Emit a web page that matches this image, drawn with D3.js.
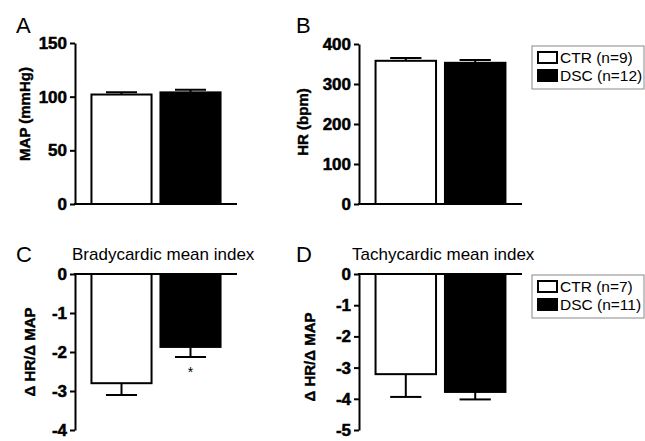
<!DOCTYPE html>
<html>
<head>
<meta charset="utf-8">
<script src="https://cdn.jsdelivr.net/npm/d3@7"></script>
<style>
  body { margin: 0; background: #fff; }
  svg { display: block; }
  svg text { font-family: "Liberation Sans", Arial, Helvetica, sans-serif; fill: #000; }
</style>
</head>
<body>
<svg id="chart" width="645" height="441"></svg>
<script>
// ---- data ----
const groups = ["CTR", "DSC"];
const mapMean = [102, 104];
const mapSem = [2, 2.5];
const hrMean = [358, 353];
const hrSem = [7, 7];
const bradyMean = [-2.8, -1.87];
const bradySem = [0.3, 0.26];
const tachyMean = [-3.21, -3.78];
const tachySem = [0.73, 0.24];
const mapTicks = [0, 50, 100, 150];
const hrTicks = [0, 100, 200, 300, 400];
const bradyTicks = [0, -1, -2, -3, -4];
const tachyTicks = [0, -1, -2, -3, -4, -5];
const legendTop = ["CTR (n=9)", "DSC (n=12)"];
const legendBottom = ["CTR (n=7)", "DSC (n=11)"];
const fills = ["#ffffff", "#000000"];

const svg = d3.select("#chart");
const FONT = "'Liberation Sans', Arial, Helvetica, sans-serif";

function panel(cfg) {
  const g = svg.append("g");
  const x = d3.scaleBand().domain(groups).range([cfg.x0, cfg.x1])
    .paddingInner(0.1).paddingOuter(0.224);
  const y = d3.scaleLinear().domain(cfg.domain).range([cfg.yb, cfg.yt]);

  const data = groups.map((k, i) => ({ k, v: cfg.mean[i], e: cfg.sem[i], f: fills[i] }));
  // error bars
  const eb = g.append("g").attr("stroke", "#000").attr("stroke-width", 2);
  data.forEach(d => {
    const cx = x(d.k) + x.bandwidth() / 2;
    const tip = d.v >= 0 ? d.v + d.e : d.v - d.e;
    const cw = x.bandwidth() / 4;
    eb.append("line").attr("x1", cx).attr("x2", cx).attr("y1", y(d.v)).attr("y2", y(tip));
    eb.append("line").attr("x1", cx - cw).attr("x2", cx + cw).attr("y1", y(tip)).attr("y2", y(tip));
  });
  g.append("g").selectAll("rect").data(data).join("rect")
    .attr("x", d => x(d.k) + 1)
    .attr("width", x.bandwidth() - 2)
    .attr("y", d => Math.min(y(0), y(d.v)))
    .attr("height", d => Math.abs(y(d.v) - y(0)))
    .attr("fill", d => d.f)
    .attr("stroke", "#000").attr("stroke-width", 2);

  // y axis
  const ax = g.append("g").attr("transform", `translate(${cfg.x0},0)`)
    .call(d3.axisLeft(y).tickValues(cfg.ticks).tickSize(5).tickSizeOuter(0).tickPadding(3)
      .tickFormat(d => String(d)));
  ax.attr("font-family", null).attr("font-size", null);
  ax.select(".domain").attr("stroke-width", 2);
  ax.selectAll(".tick line").attr("stroke-width", 2);
  ax.selectAll(".tick text")
    .style("font-size", "17px").style("font-weight", "bold").style("font-family", FONT)
    .attr("fill", "#000").attr("stroke", "#000").attr("stroke-width", 0.5);

  // x baseline at zero
  g.append("line").attr("x1", cfg.x0 - 1).attr("x2", cfg.x1).attr("y1", y(0)).attr("y2", y(0))
    .attr("stroke", "#000").attr("stroke-width", 2);

  // y label
  g.append("text").attr("transform", `translate(${cfg.lx},${cfg.ly}) rotate(-90)`)
    .attr("text-anchor", "middle")
    .style("font-size", "15px").style("font-weight", "bold").style("font-family", FONT)
    .attr("stroke", "#000").attr("stroke-width", 0.4)
    .text(cfg.ylabel);

  // panel letter
  g.append("text").attr("x", cfg.letterX).attr("y", cfg.letterY)
    .style("font-size", "22px").style("font-family", FONT).text(cfg.letter);

  if (cfg.title) {
    g.append("text").attr("x", cfg.titleX).attr("y", cfg.titleY)
      .style("font-size", "17px").style("font-family", FONT).text(cfg.title);
  }
  if (cfg.star) {
    const d = data[1];
    g.append("text").attr("x", x(d.k) + x.bandwidth() / 2).attr("y", y(d.v - d.e) + 20)
      .attr("text-anchor", "middle").style("font-size", "14px").style("font-family", FONT).text("*");
  }
  if (cfg.legend) {
    const lg = g.append("g");
    lg.append("rect").attr("x", cfg.legX).attr("y", cfg.legY).attr("width", 112).attr("height", 43)
      .attr("fill", "#fff").attr("stroke", "#888").attr("stroke-width", 1);
    cfg.legend.forEach((t, i) => {
      lg.append("rect").attr("x", cfg.legX + 6).attr("y", cfg.legY + 6 + i * 18).attr("width", 19).attr("height", 11)
        .attr("fill", fills[i]).attr("stroke", "#000").attr("stroke-width", 2);
      lg.append("text").attr("x", cfg.legX + 28).attr("y", cfg.legY + 17 + i * 18)
        .style("font-size", "15.5px").style("font-family", FONT).text(t);
    });
  }
}

panel({ x0: 75, x1: 237, yt: 43, yb: 204, domain: [0, 150], ticks: mapTicks,
  mean: mapMean, sem: mapSem, ylabel: "MAP (mmHg)", lx: 30, ly: 114,
  letter: "A", letterX: 16, letterY: 33 });
panel({ x0: 359, x1: 522, yt: 44, yb: 204, domain: [0, 400], ticks: hrTicks,
  mean: hrMean, sem: hrSem, ylabel: "HR (bpm)", lx: 308, ly: 122,
  letter: "B", letterX: 296, letterY: 33, legend: legendTop, legX: 532, legY: 46 });
panel({ x0: 75, x1: 237, yt: 430, yb: 274, domain: [0, -4], ticks: bradyTicks,
  mean: bradyMean, sem: bradySem, ylabel: "\u0394 HR/\u0394 MAP", lx: 35, ly: 352,
  letter: "C", letterX: 16, letterY: 262, title: "Bradycardic mean index", titleX: 72, titleY: 260, star: true });
panel({ x0: 359, x1: 522, yt: 430, yb: 274, domain: [0, -5], ticks: tachyTicks,
  mean: tachyMean, sem: tachySem, ylabel: "\u0394 HR/\u0394 MAP", lx: 315, ly: 357,
  letter: "D", letterX: 296, letterY: 262, title: "Tachycardic mean index", titleX: 352, titleY: 260,
  legend: legendBottom, legX: 532, legY: 275 });
</script>
</body>
</html>
